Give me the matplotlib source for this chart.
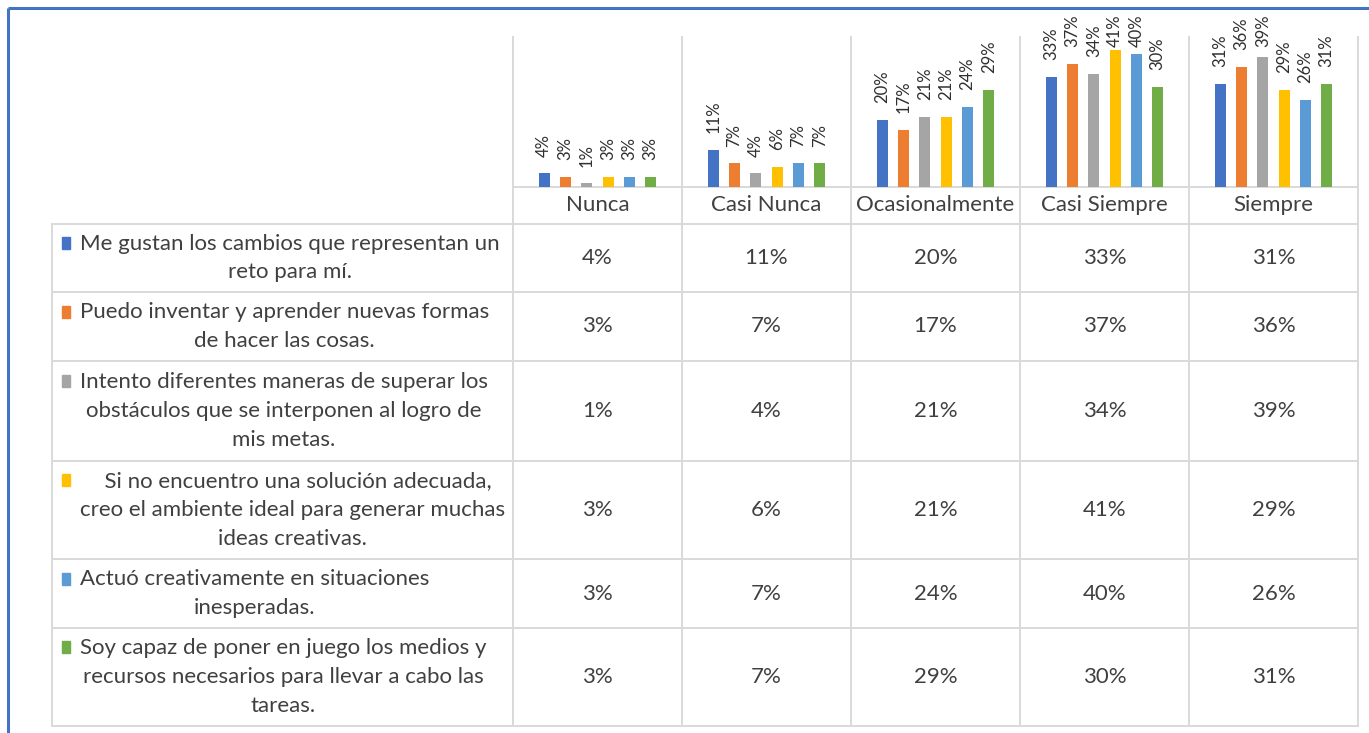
import matplotlib.pyplot as plt
from matplotlib.patches import Rectangle
import numpy as np

plt.rcParams['font.family'] = ['Lato', 'DejaVu Sans']

categorias = ['Nunca', 'Casi Nunca', 'Ocasionalmente', 'Casi Siempre', 'Siempre']
items = [
    'Me gustan los cambios que representan un\nreto para mí.',
    'Puedo inventar y aprender nuevas formas\nde hacer las cosas.',
    'Intento diferentes maneras de superar los\nobstáculos que se interponen al logro de\nmis metas.',
    '  Si no encuentro una solución adecuada,\ncreo el ambiente ideal para generar muchas\nideas creativas.',
    'Actuó creativamente en situaciones\ninesperadas.',
    'Soy capaz de poner en juego los medios y\nrecursos necesarios para llevar a cabo las\ntareas.',
]
s1 = [4, 11, 20, 33, 31]
s2 = [3, 7, 17, 37, 36]
s3 = [1, 4, 21, 34, 39]
s4 = [3, 6, 21, 41, 29]
s5 = [3, 7, 24, 40, 26]
s6 = [3, 7, 29, 30, 31]
valores = [s1, s2, s3, s4, s5, s6]
colores = ['#4472C4', '#ED7D31', '#A5A5A5', '#FFC000', '#5B9BD5', '#70AD47']

W, H = 1369, 733
fig = plt.figure(figsize=(W / 100, H / 100), dpi=100, facecolor='w')

# layout en pixeles
col_x0, col_w = 513, 169
plot_top, plot_bot = 37, 186.5
filas = [224, 292, 361, 461, 559, 628, 726]
tabla_x0 = 52
fs = 16
txt = '#404040'
gris = '#D9D9D9'

ax = fig.add_axes([col_x0 / W, 1 - plot_bot / H, 5 * col_w / W, (plot_bot - plot_top) / H])
ax.set_xlim(-0.5, 4.5)
ax.set_ylim(0, 45)
ax.axis('off')

x = np.arange(len(categorias))
paso = 0.126
etiquetas = []
for j, (serie, color) in enumerate(zip(valores, colores)):
    pos = x + (j - 2.5) * paso
    ax.bar(pos, serie, width=0.064, color=color)
    for xp, v in zip(pos, serie):
        a = ax.annotate(f'{v}%', (xp, v), xytext=(0, 12), textcoords='offset points',
                        rotation=90, ha='center', va='bottom', fontsize=12,
                        color='#303030', annotation_clip=False)
        etiquetas.append(a)

# tabla de datos
tab = fig.add_axes([0, 0, 1, 1], zorder=-1)
tab.set_xlim(0, W)
tab.set_ylim(H, 0)
tab.axis('off')

bordes = col_x0 + col_w * np.arange(len(categorias) + 1)
for xb in bordes:
    tab.plot([xb, xb], [plot_top, filas[-1]], color=gris, lw=1.4)
tab.plot([col_x0, bordes[-1]], [plot_bot, plot_bot], color=gris, lw=1.4)
for yf in filas:
    tab.plot([tabla_x0, bordes[-1]], [yf, yf], color=gris, lw=1.4)
tab.plot([tabla_x0, tabla_x0], [filas[0], filas[-1]], color=gris, lw=1.4)

# borde azul del grafico
tab.plot([8, W], [8, 8], color='#4472C4', lw=2.2, solid_capstyle='butt')
tab.plot([8, 8], [8, H], color='#4472C4', lw=2.2, solid_capstyle='butt')

for i, c in enumerate(categorias):
    tab.text(col_x0 + col_w * (i + 0.5), 205, c, ha='center', va='center',
             fontsize=fs, color=txt)

for r, (item, serie) in enumerate(zip(items, valores)):
    yc = (filas[r] + filas[r + 1]) / 2
    n = item.count('\n') + 1
    y1 = yc - (n - 1) / 2 * 30
    tab.add_patch(Rectangle((62, y1 - 6), 8, 12, color=colores[r]))
    tab.text(80, yc, item, ha='left', va='center', multialignment='center',
             linespacing=1.55, fontsize=fs, color=txt)
    for i, v in enumerate(serie):
        tab.text(col_x0 + col_w * (i + 0.5), yc, f'{v}%', ha='center', va='center',
                 fontsize=fs, color=txt)

# etiquetas que se salen arriba se bajan como en Excel
fig.canvas.draw()
lim = H - 14
for a in etiquetas:
    bb = a.get_window_extent()
    if bb.y1 > lim:
        a.xyann = (0, 12 - (bb.y1 - lim) * 72 / 100)

fig.savefig('out.png', dpi=100)
